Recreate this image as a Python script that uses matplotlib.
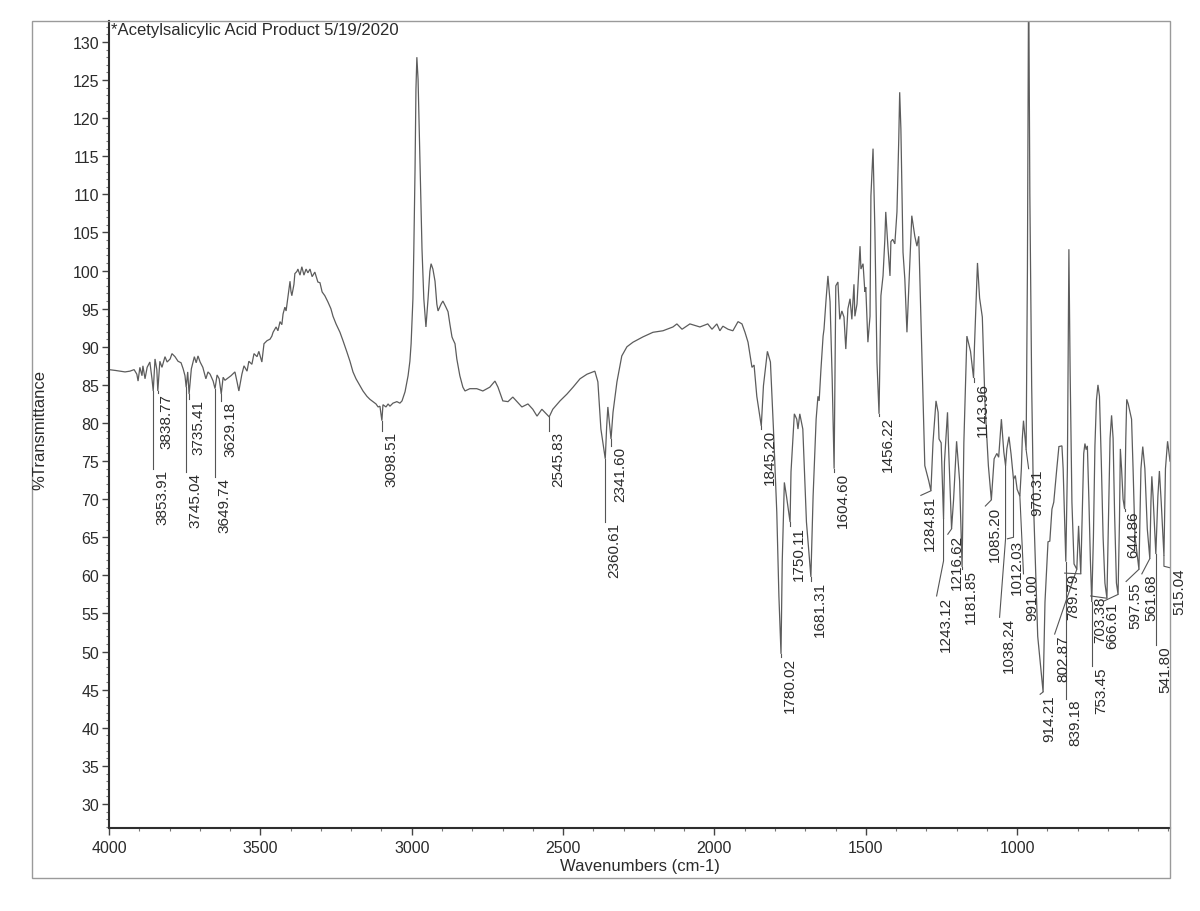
import matplotlib
matplotlib.use("Agg")
import matplotlib.pyplot as plt
from matplotlib.ticker import FixedLocator
from matplotlib.patches import Rectangle
import matplotlib.transforms as mtransforms

plt.rcParams['font.family'] = ['Liberation Sans', 'DejaVu Sans']

# ---------------- data ----------------
wavenumber = [
    4000, 3980, 3964, 3947, 3931, 3917, 3908, 3904, 3898, 3891, 3888, 3881, 3874, 3865, 3858,
    3853.91, 3848, 3842, 3838.77, 3832, 3825, 3815, 3808, 3798, 3792, 3782, 3772, 3762, 3755,
    3749, 3745.04, 3740, 3735.41, 3728, 3718, 3712, 3706, 3699, 3690, 3680, 3673, 3666, 3656,
    3649.74, 3643, 3636, 3629.18, 3623, 3617, 3607, 3597, 3584, 3577, 3571, 3561, 3554, 3544,
    3538, 3528, 3521, 3511, 3505, 3495, 3488, 3478, 3468, 3462, 3458, 3448, 3442, 3435, 3429,
    3425, 3419, 3415, 3409, 3402, 3399, 3396, 3389, 3386, 3379, 3376, 3369, 3363, 3356, 3349,
    3343, 3336, 3329, 3320, 3310, 3303, 3296, 3287, 3277, 3267, 3260, 3250, 3237, 3227, 3214,
    3204, 3194, 3184, 3171, 3161, 3148, 3138, 3128, 3118, 3111, 3105, 3098.51, 3095, 3085,
    3078, 3072, 3062, 3049, 3039, 3032, 3022, 3012, 3006, 3002, 2996, 2993, 2989, 2986, 2983,
    2979, 2973, 2966, 2960, 2953, 2946, 2940, 2936, 2930, 2923, 2917, 2913, 2903, 2897, 2887,
    2880, 2874, 2867, 2864, 2857, 2851, 2841, 2831, 2824, 2808, 2785, 2765, 2742, 2725, 2715,
    2699, 2682, 2666, 2652, 2636, 2616, 2600, 2586, 2570, 2545.83, 2534, 2510, 2487, 2467,
    2444, 2421, 2395, 2385, 2375, 2360.61, 2356, 2352, 2341.60, 2335, 2322, 2306, 2289, 2269,
    2236, 2203, 2170, 2137, 2124, 2107, 2081, 2048, 2022, 2008, 1992, 1982, 1972, 1955, 1939,
    1922, 1909, 1899, 1889, 1876, 1869, 1860, 1845.20, 1838, 1825, 1815, 1805, 1794, 1787,
    1780.02, 1776, 1769, 1762, 1750.11, 1747, 1740, 1736, 1728, 1724, 1718, 1708, 1696,
    1681.31, 1674, 1664, 1658, 1654, 1648, 1641, 1638, 1631, 1625, 1618, 1611, 1604.60, 1602,
    1599, 1592, 1586, 1579, 1572, 1566, 1559, 1552, 1546, 1539, 1536, 1529, 1519, 1516, 1509,
    1503, 1500, 1493, 1486, 1483, 1476, 1470, 1463, 1456.22, 1450, 1443, 1437, 1434, 1427,
    1420, 1417, 1411, 1404, 1397, 1391, 1388, 1384, 1377, 1371, 1364, 1358, 1348, 1338, 1331,
    1325, 1318, 1308, 1305, 1292, 1284.81, 1278, 1268, 1261, 1258, 1251, 1243.12, 1240, 1230,
    1227, 1216.62, 1210, 1200, 1190, 1181.85, 1176, 1166, 1154, 1143.96, 1141, 1131, 1124,
    1115, 1106, 1095, 1085.20, 1076, 1067, 1061, 1052, 1044, 1038.24, 1034, 1027, 1020,
    1012.03, 1006, 1000, 991.00, 986, 983, 979, 975, 970.31, 966, 962, 958, 952, 946, 932,
    914.21, 908, 898, 892, 885, 879, 869, 862, 852, 848, 839.18, 834, 829, 825, 819, 812,
    802.87, 797, 789.79, 785, 780, 776, 772, 768, 763, 758, 753.45, 748, 743, 738, 733, 728,
    722, 716, 710, 703.38, 698, 693, 688, 683, 678, 672, 666.61, 662, 659, 655, 650, 644.86,
    641, 638, 633, 628, 622, 617, 611, 597.55, 591, 585, 578, 570, 561.68, 558, 555, 551,
    541.80, 535, 530, 524, 515.04, 510, 503, 498, 495,
]
transmittance = [
    87.0, 86.9, 86.8, 86.7, 86.8, 87.0, 86.4, 85.5, 87.3, 86.2, 87.5, 85.8, 87.3, 88.0, 85.8,
    84.2, 88.4, 87.0, 84.2, 88.1, 87.3, 88.7, 88.0, 88.4, 89.1, 88.7, 88.1, 87.9, 87.1,
    86.2, 84.7, 86.7, 83.8, 87.1, 88.7, 87.9, 88.8, 88.0, 87.3, 85.8, 86.7, 86.4, 85.5,
    84.5, 86.3, 85.8, 83.8, 86.0, 85.6, 85.9, 86.2, 86.7, 85.4, 84.2, 86.4, 87.5, 86.8,
    88.1, 87.7, 89.1, 88.7, 89.4, 88.0, 90.4, 90.8, 91.0, 91.4, 91.9, 92.6, 92.1, 93.3, 92.9,
    94.3, 95.2, 94.7, 96.5, 98.6, 97.3, 96.7, 98.2, 99.6, 99.9, 100.2, 99.4, 100.5, 99.4, 100.2,
    99.7, 100.2, 99.2, 99.8, 98.5, 98.4, 97.2, 96.7, 95.9, 95.0, 94.0, 93.0, 91.9, 90.8, 89.3,
    88.1, 86.7, 85.8, 84.9, 84.2, 83.5, 83.1, 82.8, 82.5, 82.1, 82.2, 80.3, 82.4, 82.1,
    82.5, 82.2, 82.6, 82.8, 82.6, 82.9, 84.1, 86.2, 88.1, 90.4, 96.3, 102.8, 113.3, 123.8, 128.0,
    125.1, 114.6, 102.8, 96.3, 92.6, 96.3, 99.9, 100.9, 100.2, 98.6, 95.6, 94.7, 95.6, 96.0, 95.2,
    94.6, 93.0, 91.3, 91.0, 90.4, 88.4, 86.2, 84.7, 84.2, 84.5, 84.5, 84.2, 84.7, 85.5, 84.7,
    82.9, 82.8, 83.4, 82.8, 82.1, 82.5, 81.8, 80.9, 81.8, 80.8, 81.8, 82.9, 83.8, 84.7,
    85.8, 86.4, 86.8, 85.4, 79.2, 75.3, 79.5, 82.1, 77.9, 81.4, 85.4, 88.8, 90.0, 90.6,
    91.3, 91.9, 92.1, 92.6, 93.0, 92.3, 93.0, 92.6, 93.0, 92.3, 93.0, 92.1, 92.7, 92.3, 92.1,
    93.3, 93.0, 91.9, 90.6, 87.3, 87.6, 83.5, 79.6, 84.9, 89.4, 88.0, 79.2, 68.3, 57.3,
    49.7, 61.8, 72.2, 70.4, 67.0, 73.6, 78.3, 81.2, 80.5, 79.2, 81.2, 79.2, 67.0,
    59.8, 70.4, 80.5, 83.5, 82.9, 87.1, 91.4, 92.3, 96.3, 99.3, 95.9, 85.8, 74.0, 85.8,
    98.0, 98.5, 93.6, 94.7, 93.9, 89.7, 95.0, 96.3, 93.6, 98.2, 94.0, 95.6, 103.2, 100.2, 100.9,
    97.2, 97.8, 90.6, 94.0, 109.8, 116.0, 105.5, 88.0, 81.2, 96.7, 99.3, 104.1, 107.7, 103.2,
    99.3, 103.8, 104.1, 103.5, 107.7, 117.3, 123.4, 118.6, 102.4, 98.9, 91.9, 97.6, 107.2, 104.5, 103.2,
    104.5, 94.0, 79.2, 74.4, 72.4, 71.1, 77.4, 82.9, 81.4, 77.9, 77.4, 67.4, 74.9, 81.4,
    77.4, 66.1, 69.9, 77.6, 72.4, 61.1, 77.4, 91.4, 89.4, 85.9, 90.0, 101.0, 96.4,
    93.9, 82.4, 74.4, 69.9, 75.3, 76.0, 75.5, 80.5, 76.2, 74.4, 76.6, 78.2, 75.9,
    72.6, 73.1, 71.3, 70.4, 74.0, 77.9, 80.3, 78.5, 76.5, 100.0, 140.0, 110.0, 85.0, 69.6, 52.0,
    44.7, 56.5, 64.4, 64.5, 68.7, 69.6, 74.0, 76.9, 77.0, 74.0, 61.8, 74.0, 102.8, 87.0, 69.6, 61.5,
    60.8, 66.5, 60.2, 68.0, 76.0, 77.3, 76.5, 77.0, 70.0, 62.0, 56.5, 65.0, 77.0, 83.0, 85.0, 83.5,
    75.0, 65.0, 59.0, 57.0, 68.0, 78.0, 81.0, 78.0, 68.0, 59.0, 57.5, 67.0, 76.6, 74.0, 70.0, 68.7,
    78.0, 83.1, 82.5, 81.6, 80.5, 74.0, 65.2, 60.8, 74.0, 76.9, 74.0, 66.1, 62.2, 69.6, 73.0, 70.4,
    62.8, 70.4, 73.7, 69.6, 62.6, 74.0, 77.6, 76.0, 75.0,
]

# peak labels: text, line start (curve), knee, text anchor (top-left of label)
peak_labels = ["3853.91", "3838.77", "3745.04", "3735.41", "3649.74", "3629.18", "3098.51",
               "2545.83", "2360.61", "2341.60", "1845.20", "1780.02", "1750.11", "1681.31",
               "1604.60", "1456.22", "1284.81", "1243.12", "1216.62", "1181.85", "1143.96",
               "1085.20", "1038.24", "1012.03", "991.00", "970.31", "914.21", "839.18",
               "802.87", "789.79", "753.45", "703.38", "666.61", "644.86", "597.55",
               "561.68", "541.80", "515.04"]
peak_T = [84.2, 84.2, 84.7, 83.8, 84.5, 83.8, 80.3, 80.8, 75.3, 77.9, 79.6, 49.7, 67.0, 59.8,
          74.0, 81.2, 71.1, 67.4, 66.1, 61.1, 85.9, 69.9, 74.4, 72.6, 70.4, 76.5, 44.7, 61.8,
          60.8, 60.2, 56.5, 57.0, 57.5, 68.7, 60.8, 62.2, 62.8, 62.6]
knee_T = [74.2, 84.2, 73.8, 83.8, 73.1, 83.8, 79.1, 79.1, 67.2, 77.2, 79.4, 49.5, 66.7, 59.5,
          73.8, 81.0, 71.1, 61.9, 66.1, 61.0, 85.6, 69.9, 64.8, 65.0, 70.4, 76.5, 44.7, 44.0,
          60.8, 60.2, 48.5, 57.0, 57.5, 68.7, 60.8, 62.2, 51.0, 61.2]
text_wn = [3853.91, 3838.77, 3745.04, 3735.41, 3649.74, 3629.18, 3098.51, 2545.83, 2360.61,
           2341.60, 1845.20, 1780.02, 1750.11, 1681.31, 1604.60, 1456.22, 1318, 1266, 1229,
           1181.85, 1143.96, 1105, 1058, 1032, 979, 962, 924, 839.18, 876, 843, 753.45, 757,
           715, 644.86, 640, 588, 541.80, 495]
text_T = [74.0, 83.9, 73.6, 83.1, 72.9, 82.9, 78.9, 78.9, 67.0, 77.0, 79.2, 49.3, 66.5, 59.3,
          73.6, 80.9, 70.5, 57.3, 65.4, 60.8, 85.4, 69.1, 54.5, 64.8, 60.2, 74.0, 44.4, 43.8,
          52.3, 60.3, 48.1, 57.3, 56.6, 68.5, 59.2, 60.2, 50.8, 61.0]

x_ticks = [4000, 3500, 3000, 2500, 2000, 1500, 1000]
x_minor = [3900, 3800, 3700, 3600, 3400, 3300, 3200, 3100, 2900, 2800, 2700, 2600, 2400, 2300,
           2200, 2100, 1900, 1800, 1700, 1600, 1400, 1300, 1200, 1100, 900, 800, 700, 600, 500]
y_ticks = [30, 35, 40, 45, 50, 55, 60, 65, 70, 75, 80, 85, 90, 95, 100, 105, 110, 115, 120, 125, 130]

# ---------------- figure ----------------
W, H = 1200, 912
fig = plt.figure(figsize=(W / 100, H / 100), dpi=100)
fig.patch.set_facecolor('white')

ax_l, ax_r, ax_t, ax_b = 109, 1170, 22, 829
ax = fig.add_axes([ax_l / W, 1 - ax_b / H, (ax_r - ax_l) / W, (ax_b - ax_t) / H])
ax.set_facecolor('none')

ax.plot(wavenumber, transmittance, color='#5c5c5c', lw=0.9, solid_joinstyle='miter')

ax.set_xlim(4000, 495)
ax.set_ylim(26.85, 132.75)

ax.xaxis.set_major_locator(FixedLocator(x_ticks))
ax.xaxis.set_minor_locator(FixedLocator(x_minor))
ax.yaxis.set_major_locator(FixedLocator(y_ticks))
ax.yaxis.set_minor_locator(FixedLocator([v for v in range(27, 133) if v % 5 != 0]))

for s in ['top', 'right']:
    ax.spines[s].set_visible(False)
for s in ['left', 'bottom']:
    ax.spines[s].set_color('#2e2e2e')
    ax.spines[s].set_linewidth(1.5)

ax.tick_params(axis='both', which='major', direction='out', length=5, width=1,
               color='#444444', labelsize=11.5, labelcolor='#2b2b2b')
ax.tick_params(axis='both', which='minor', direction='out', length=2.5, width=0.8,
               color='#777777')
ax.tick_params(axis='y', which='major', pad=2)
ax.tick_params(axis='x', which='major', pad=4)

ax.set_xlabel("Wavenumbers (cm-1)", fontsize=12, color='#2b2b2b', labelpad=2)

# peak labels
off = mtransforms.ScaledTranslation(1.5 / 72, 0, fig.dpi_scale_trans)
for lab, t0, tk, xw, tt in zip(peak_labels, peak_T, knee_T, text_wn, text_T):
    w = float(lab)
    ax.plot([w, w, xw], [t0, tk, tt], color='#555555', lw=0.8, clip_on=False)
    ax.text(xw, tt, lab, rotation=90, ha='left', va='top', fontsize=11,
            color='#2b2b2b', transform=ax.transData + off, clip_on=False)

# outer frame, title, y label
fig.patches.append(Rectangle((32 / W, 1 - 879 / H), (1170 - 32) / W, (879 - 22) / H,
                             transform=fig.transFigure, fill=False, ec='#9a9a9a', lw=1.0))
fig.text(111 / W, 1 - 31 / H, "*Acetylsalicylic Acid Product 5/19/2020", fontsize=12,
         ha='left', va='center', color='#2b2b2b')
fig.text(40 / W, 1 - 430 / H, "%Transmittance", rotation=90, fontsize=12,
         ha='center', va='center', color='#2b2b2b')

fig.savefig("out.png", dpi=100)
